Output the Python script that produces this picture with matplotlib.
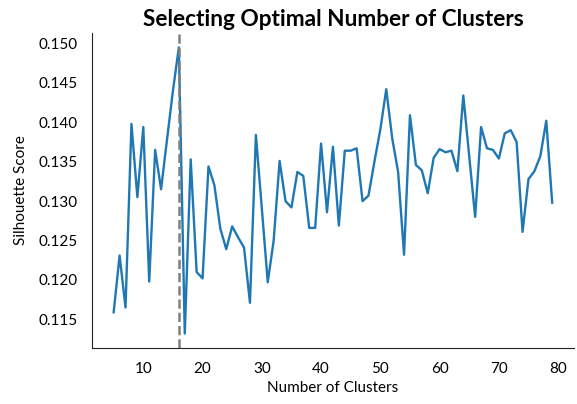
import numpy as np
import matplotlib
matplotlib.use("Agg")
import matplotlib.pyplot as plt

plt.rcParams['font.family'] = ['Lato', 'DejaVu Sans']

# Silhouette scores for k = 5 .. 79
n_clusters = list(range(5, 80))
scores = [
    0.1159, 0.1231, 0.1165, 0.1398, 0.1305, 0.1394, 0.1198, 0.1365, 0.1315, 0.1378,
    0.1440, 0.1495, 0.1132, 0.1353, 0.1210, 0.1202, 0.1344, 0.1320, 0.1265, 0.1239,
    0.1268, 0.1254, 0.1241, 0.1171, 0.1384, 0.1291, 0.1197, 0.1250, 0.1351, 0.1300,
    0.1292, 0.1337, 0.1332, 0.1266, 0.1266, 0.1373, 0.1286, 0.1369, 0.1269, 0.1364,
    0.1364, 0.1367, 0.1300, 0.1307, 0.1350, 0.1391, 0.1442, 0.1380, 0.1337, 0.1232,
    0.1409, 0.1346, 0.1339, 0.1310, 0.1355, 0.1366, 0.1362, 0.1364, 0.1338, 0.1434,
    0.1357, 0.1280, 0.1394, 0.1367, 0.1365, 0.1354, 0.1386, 0.1390, 0.1375, 0.1261,
    0.1328, 0.1338, 0.1357, 0.1402, 0.1298,
]
best_k = 16

fig = plt.figure(figsize=(5.77, 4.04), dpi=100)
ax = fig.add_axes([0.159, 0.139, 0.836, 0.779])

ax.plot(n_clusters, scores, color='#1f77b4', linewidth=1.7)
ax.axvline(best_k, color='#808080', linestyle='--', linewidth=1.8)

ax.set_title('Selecting Optimal Number of Clusters', fontsize=16.3, fontweight='bold', pad=5)
ax.set_xlabel('Number of Clusters', fontsize=11)
ax.set_ylabel('Silhouette Score', fontsize=11, labelpad=8)

ax.set_xticks([10, 20, 30, 40, 50, 60, 70, 80])
ax.set_yticks([0.115, 0.120, 0.125, 0.130, 0.135, 0.140, 0.145, 0.150])
ax.tick_params(length=0, labelsize=11, pad=10)

ax.spines['top'].set_visible(False)
ax.spines['right'].set_visible(False)
ax.spines['left'].set_color('#222222')
ax.spines['bottom'].set_color('#222222')

fig.savefig('out.png', dpi=100)
